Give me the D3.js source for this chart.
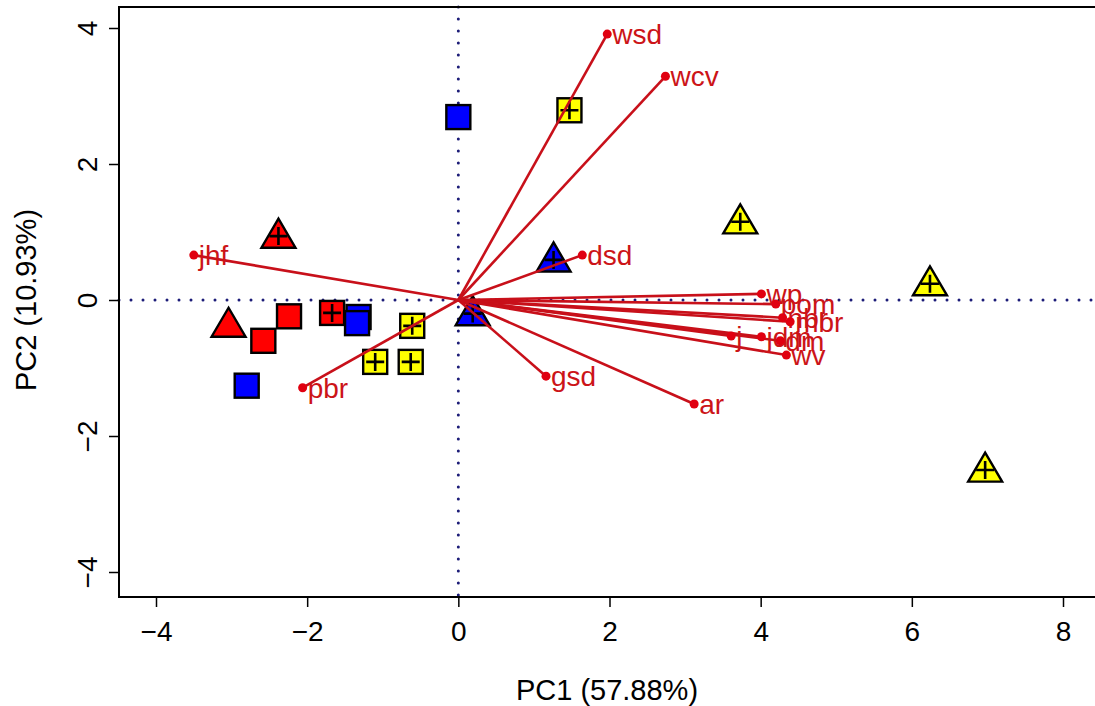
<!DOCTYPE html>
<html><head><meta charset="utf-8">
<script src="https://cdn.jsdelivr.net/npm/d3@7"></script>
<style>body{margin:0;background:#fff}svg{display:block}text{font-family:"Liberation Sans",Arial,sans-serif}</style>
</head><body>
<svg id="c" width="1095" height="706"></svg>
<script>
// ---- data ----
const pointX = [0.0, 1.47, 3.73, 6.24, 6.97, -2.38, 1.26, 0.19, -3.04, -2.58, -2.24, -1.67, -1.32, -1.34, -0.61, -1.10, -0.63, -2.80];
const pointY = [2.69, 2.79, 1.15, 0.24, -2.50, 0.94, 0.59, -0.20, -0.37, -0.60, -0.24, -0.19, -0.25, -0.34, -0.38, -0.91, -0.91, -1.26];
const pointGroup = ["blue","yellow","yellow","yellow","yellow","red","blue","blue","red","red","red","red","blue","blue","yellow","yellow","yellow","blue"];
const pointShape = ["square","square","triangle","triangle","triangle","triangle","triangle","triangle","triangle","square","square","square","square","square","square","square","square","square"];
const pointCross = [false,true,true,true,true,true,true,true,false,false,false,true,false,false,true,true,true,false];

const varNames = ["wsd","wcv","dsd","jhf","pbr","gsd","ar","wp","pom","nbr","mbr","j","jdm","dm","wv"];
const varX = [1.97, 2.74, 1.64, -3.50, -2.06, 1.16, 3.12, 4.01, 4.20, 4.29, 4.39, 3.61, 4.01, 4.26, 4.34];
const varY = [3.91, 3.29, 0.66, 0.66, -1.29, -1.12, -1.53, 0.09, -0.06, -0.26, -0.32, -0.53, -0.54, -0.60, -0.81];

const xTicks = [-4, -2, 0, 2, 4, 6, 8];
const yTicks = [-4, -2, 0, 2, 4];
const xTitle = "PC1 (57.88%)";
const yTitle = "PC2 (10.93%)";
const groupColors = {red: "#ff0000", blue: "#0000ff", yellow: "#ffff00"};

// ---- layout ----
const svg = d3.select("#c");
const L = 119, R = 1100, T = 7, B = 597;
const x = d3.scaleLinear().domain([-4, 8]).range([156, 1063]);
const y = d3.scaleLinear().domain([-4, 4]).range([572, 28]);

svg.append("rect").attr("width",1095).attr("height",706).attr("fill","#fff");

// reference dotted lines
const dotCol = "#1c1c78";
svg.append("line").attr("x1",L).attr("x2",R).attr("y1",y(0)).attr("y2",y(0))
  .attr("stroke",dotCol).attr("stroke-width",3).attr("stroke-dasharray","0 12").attr("stroke-linecap","round");
svg.append("line").attr("x1",x(0)).attr("x2",x(0)).attr("y1",T).attr("y2",B)
  .attr("stroke",dotCol).attr("stroke-width",3).attr("stroke-dasharray","0 12").attr("stroke-linecap","round");

// points
const pts = svg.append("g");
pointX.forEach((vx,i)=>{
  const cx = x(vx), cy = y(pointY[i]);
  const fill = groupColors[pointGroup[i]];
  if (pointShape[i]==="square") {
    pts.append("rect").attr("x",cx-12).attr("y",cy-12).attr("width",24).attr("height",24)
      .attr("fill",fill).attr("stroke","#000").attr("stroke-width",2.4);
  } else {
    const h = 29, w = 34;
    pts.append("path").attr("d",`M${cx},${cy-h*0.6}L${cx+w/2},${cy+h*0.4}L${cx-w/2},${cy+h*0.4}Z`)
      .attr("fill",fill).attr("stroke","#000").attr("stroke-width",2.4).attr("stroke-linejoin","miter");
  }
  if (pointCross[i]) {
    const s = 9;
    pts.append("path").attr("d",`M${cx-s},${cy}H${cx+s}M${cx},${cy-s}V${cy+s}`)
      .attr("stroke","#000").attr("stroke-width",2.6);
  }
});

// arrows
const arrowCol = "#c8101a";
const ar = svg.append("g");
varNames.forEach((n,i)=>{
  ar.append("line").attr("x1",x(0)).attr("y1",y(0)).attr("x2",x(varX[i])).attr("y2",y(varY[i]))
    .attr("stroke",arrowCol).attr("stroke-width",2.6);
});
varNames.forEach((n,i)=>{
  ar.append("circle").attr("cx",x(varX[i])).attr("cy",y(varY[i])).attr("r",4.5).attr("fill","#e00010");
  ar.append("text").attr("x",x(varX[i])+5).attr("y",y(varY[i])).attr("dy","0.36em")
    .attr("font-size",28).attr("fill","#cc1418").text(n);
});

// box
svg.append("path").attr("d",`M${R},${T}H${L}V${B}H${R}`).attr("fill","none").attr("stroke","#000").attr("stroke-width",2);

// axes
const fmt = d=>d<0?"\u2212"+Math.abs(d):d;
const gx = svg.append("g").attr("transform",`translate(0,${B})`)
  .call(d3.axisBottom(x).tickValues(xTicks).tickSize(10).tickPadding(14).tickFormat(fmt));
gx.select(".domain").remove();
gx.selectAll("line").attr("stroke","#000").attr("stroke-width",1.5);
gx.selectAll("text").attr("font-size",28).attr("fill","#000").attr("font-family","Liberation Sans, Arial, sans-serif");

const gy = svg.append("g").attr("transform",`translate(${L},0)`)
  .call(d3.axisLeft(y).tickValues(yTicks).tickSize(10).tickFormat(fmt));
gy.select(".domain").remove();
gy.selectAll("line").attr("stroke","#000").attr("stroke-width",1.5);
gy.selectAll("text").attr("font-size",28).attr("fill","#000").attr("font-family","Liberation Sans, Arial, sans-serif")
  .attr("x",0).attr("dy",0).attr("text-anchor","middle")
  .attr("transform","translate(-22,0) rotate(-90)");

svg.append("text").attr("x",607).attr("y",700).attr("text-anchor","middle").attr("font-size",29).attr("fill","#000").text(xTitle);
svg.append("text").attr("transform",`translate(36,${y(0)}) rotate(-90)`).attr("text-anchor","middle").attr("font-size",29).attr("fill","#000").text(yTitle);
</script>
</body></html>
